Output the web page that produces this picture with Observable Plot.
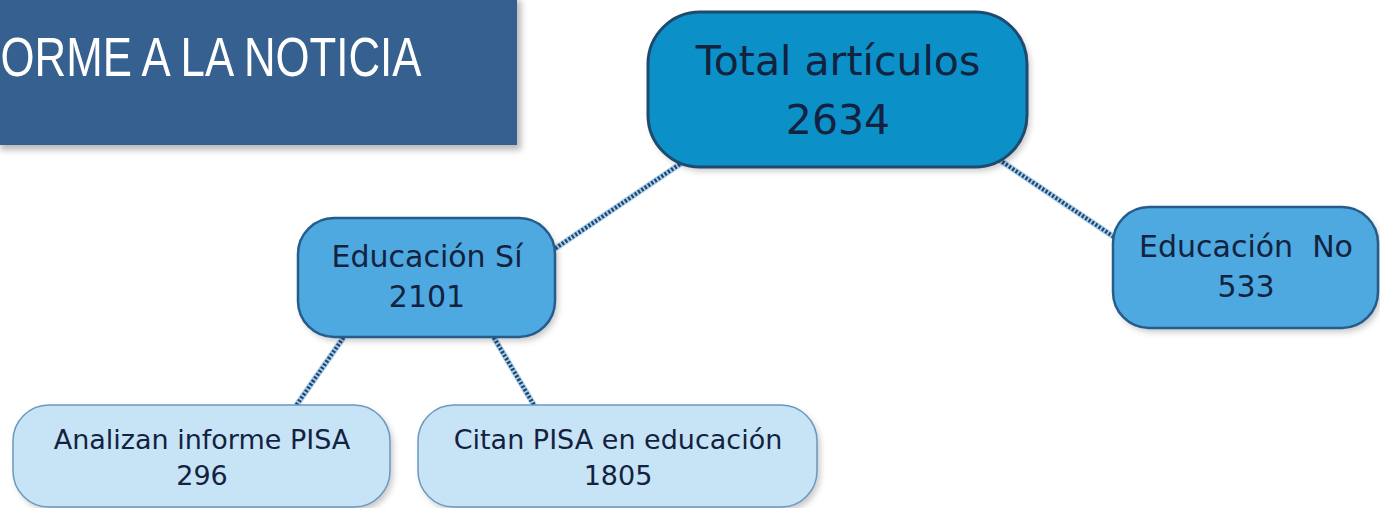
<!DOCTYPE html>
<html>
<head>
<meta charset="utf-8">
<script src="https://cdn.jsdelivr.net/npm/d3@7"></script>
<script src="https://cdn.jsdelivr.net/npm/@observablehq/plot@0.6"></script>
<style>
  html, body { margin: 0; padding: 0; background: #ffffff; overflow: hidden; }
  #chart svg { display: block; }
</style>
</head>
<body>
<div id="chart"></div>
<script>
// ---- data ----
const titleText = "ORME A LA NOTICIA";
const nodeLabels  = ["Total artículos", "Educación Sí", "Educación  No", "Analizan informe PISA", "Citan PISA en educación"];
const nodeValues  = [2634, 2101, 533, 296, 1805];
const nodeParents = [null, "Total artículos", "Total artículos", "Educación Sí", "Educación Sí"];
const nodeLevels  = [0, 1, 1, 2, 2];

// ---- layout (pixel geometry, separate from data) ----
const W = 1380, H = 508;
const boxes = {
  "Total artículos":          {x1: 648, x2: 1027, y1: 12,  y2: 167},
  "Educación Sí":             {x1: 298, x2: 555,  y1: 218, y2: 337},
  "Educación  No":            {x1: 1113, x2: 1378, y1: 207, y2: 328},
  "Analizan informe PISA":    {x1: 13,  x2: 390,  y1: 405, y2: 507},
  "Citan PISA en educación":  {x1: 418, x2: 817,  y1: 405, y2: 507}
};
// link anchors as fractions of source / target boxes
const anchors = {
  "Educación Sí":            {s: [0.10, 0.95], t: [0.98, 0.28]},
  "Educación  No":           {s: [0.925, 0.95], t: [0.02, 0.27]},
  "Analizan informe PISA":   {s: [0.175, 1.0], t: [0.75, 0.0]},
  "Citan PISA en educación": {s: [0.76, 1.0],  t: [0.29, 0.0]}
};
const levelStyle = [
  {fill: "#0b90c8", stroke: "#1d4a6e", sw: 3,   rx: 52, font: 41, l1: 0.32, l2: 0.70},
  {fill: "#4ea9e0", stroke: "#245d8c", sw: 2.5, rx: 36, font: 30, l1: 0.33, l2: 0.66},
  {fill: "#c7e4f7", stroke: "#6a98bf", sw: 1.5, rx: 36, font: 27, l1: 0.34, l2: 0.69}
];
const banner = {x1: 0, x2: 517, y1: 0, y2: 145, textX: 0, textY: 58, textLen: 421};

const nodes = nodeLabels.map((label, i) => {
  const b = boxes[label], st = levelStyle[nodeLevels[i]];
  return {label, value: nodeValues[i], parent: nodeParents[i], level: nodeLevels[i], ...b,
          cx: (b.x1 + b.x2) / 2,
          yl: b.y1 + (b.y2 - b.y1) * st.l1,
          yv: b.y1 + (b.y2 - b.y1) * st.l2};
});
const byLabel = new Map(nodes.map(d => [d.label, d]));
const links = nodes.filter(d => d.parent).map(d => {
  const s = byLabel.get(d.parent), a = anchors[d.label];
  return {
    x1: s.x1 + (s.x2 - s.x1) * a.s[0], y1: s.y1 + (s.y2 - s.y1) * a.s[1],
    x2: d.x1 + (d.x2 - d.x1) * a.t[0], y2: d.y1 + (d.y2 - d.y1) * a.t[1]
  };
});

const font = "'DejaVu Sans', 'Noto Sans', sans-serif";
const marks = [];
// banner shadow + banner
marks.push(Plot.rect([banner], {x1: d => d.x1, x2: d => d.x2 + 4, y1: d => d.y1, y2: d => d.y2 + 5, fill: "#000", fillOpacity: 0.28}));
marks.push(Plot.rect([banner], {x1: "x1", x2: "x2", y1: "y1", y2: "y2", fill: "#36608f"}));
marks.push(Plot.text([titleText], {x: () => banner.textX, y: () => banner.textY, text: d => d, textAnchor: "start",
  fill: "#ffffff", fontSize: 55, fontFamily: "'Liberation Sans Narrow', 'Arial Narrow', 'Liberation Sans', sans-serif"}));
// links
marks.push(Plot.link(links, {x1: "x1", y1: "y1", x2: "x2", y2: "y2", stroke: "#a9d0ee", strokeWidth: 6}));
marks.push(Plot.link(links, {x1: "x1", y1: "y1", x2: "x2", y2: "y2", stroke: "#23466d", strokeWidth: 4, strokeDasharray: "2.2,1.8"}));
// node shadows + nodes, per level
for (let lv = 0; lv < 3; lv++) {
  const st = levelStyle[lv];
  const data = nodes.filter(d => d.level === lv);
  marks.push(Plot.rect(data, {x1: d => d.x1 + 3, x2: d => d.x2 + 3, y1: d => d.y1 + 4, y2: d => d.y2 + 4,
    fill: "#000", fillOpacity: 0.22, rx: st.rx}));
  marks.push(Plot.rect(data, {x1: "x1", x2: "x2", y1: "y1", y2: "y2", fill: st.fill, stroke: st.stroke, strokeWidth: st.sw, rx: st.rx}));
  marks.push(Plot.text(data, {x: "cx", y: "yl", text: "label", fontSize: st.font, fill: "#13223f", fontFamily: font}));
  marks.push(Plot.text(data, {x: "cx", y: "yv", text: d => String(d.value), fontSize: st.font, fill: "#13223f", fontFamily: font}));
}

const chart = Plot.plot({
  width: W, height: H,
  margin: 0,
  x: {domain: [0, W], range: [0, W], axis: null},
  y: {domain: [0, H], range: [0, H], axis: null},
  style: {background: "#ffffff"},
  marks
});

// soft blur for shadow layers
const ns = "http://www.w3.org/2000/svg";
const defs = document.createElementNS(ns, "defs");
defs.innerHTML = '<filter id="blur" x="-10%" y="-20%" width="120%" height="140%"><feGaussianBlur stdDeviation="3"/></filter>';
chart.insertBefore(defs, chart.firstChild);
const rectGroups = chart.querySelectorAll('g[aria-label="rect"]');
[0, 2, 4, 6].forEach(i => rectGroups[i] && rectGroups[i].setAttribute("filter", "url(#blur)"));
// condense the banner title to its width in the reference
const titleNode = chart.querySelector('g[aria-label="text"] text');
if (titleNode) {
  titleNode.setAttribute("textLength", banner.textLen);
  titleNode.setAttribute("lengthAdjust", "spacingAndGlyphs");
}
document.getElementById("chart").appendChild(chart);
</script>
</body>
</html>
